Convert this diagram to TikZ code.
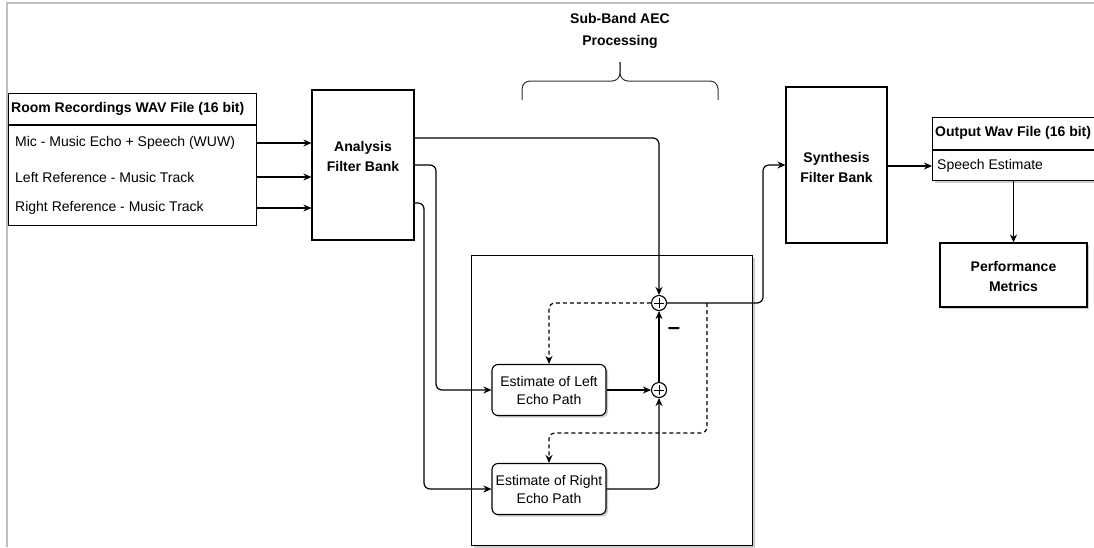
\documentclass[tikz,border=0pt]{standalone}
\usepackage{fontspec}
\setmainfont{Liberation Sans}
\usetikzlibrary{arrows.meta,shadows}

\begin{document}
\begin{tikzpicture}[x=1pt,y=-1pt]
\tikzstyle{box}=[draw,line width=1.1pt,fill=white,inner sep=0pt]
\tikzstyle{shade}=[drop shadow={shadow xshift=2pt,shadow yshift=-2pt,fill=black!40}]
\tikzstyle{rbox}=[box,rounded corners=6pt,align=center,font=\fontsize{14}{18}\selectfont]
\tikzstyle{txt}=[inner sep=0pt,font=\fontsize{14}{17}\selectfont]
\tikzstyle{hdr}=[inner sep=0pt,font=\fontsize{14}{17}\selectfont\bfseries]
\tikzstyle{lbl}=[inner sep=0pt,align=center,font=\fontsize{14}{20}\selectfont\bfseries]
\tikzstyle{sum}=[draw,line width=1.1pt,circle,fill=white,minimum size=15pt,inner sep=0pt,
  path picture={\draw[line width=1pt,shift={(path picture bounding box.center)}] (-5pt,0) -- (5pt,0) (0,-5pt) -- (0,5pt);}]
\tikzstyle{arr}=[draw,line width=1.2pt,-{Stealth[length=8pt,width=7pt]},rounded corners=6pt]
\tikzstyle{darr}=[arr,dash pattern=on 4pt off 3pt]
\useasboundingbox (0,0) rectangle (1094,547);
\draw[black!25,line width=1.2pt] (7,547) -- (7,3) -- (1094,3);

\node[box,minimum width=248pt,minimum height=132pt,anchor=north west] (room) at (8,93) {};
\draw[line width=1.1pt] (8,125) -- (256,125);
\node[hdr,anchor=west] (roomtitle) at (11,109) {Room Recordings WAV File (16 bit)};
\node[txt,anchor=west] (mic) at (15,143) {Mic - Music Echo + Speech (WUW)};
\node[txt,anchor=west] (leftref) at (15,177) {Left Reference - Music Track};
\node[txt,anchor=west] (rightref) at (15,208) {Right Reference - Music Track};

\node[box,minimum width=102pt,minimum height=150pt] (analysis) at (363,165) {};
\node[lbl] (analysislbl) at (363,156) {Analysis\\Filter Bank};

\node[txt,align=center,font=\fontsize{14}{22}\selectfont\bfseries] (aectitle) at (620,31) {Sub-Band AEC\\Processing};
\draw[black!80,line width=1pt,rounded corners=8pt] (522,100) -- (522,81) -- (620,81) -- (620,62);
\draw[black!80,line width=1pt,rounded corners=8pt] (718,100) -- (718,81) -- (620,81) -- (620,62);

\node[box,shade,minimum width=281pt,minimum height=290pt,anchor=north west] (aec) at (471,255) {};
\node[rbox,shade,minimum width=114pt,minimum height=51pt] (estl) at (549,390) {Estimate of Left\\Echo Path};
\node[rbox,shade,minimum width=114pt,minimum height=51pt] (estr) at (549,489) {Estimate of Right\\Echo Path};
\node[sum] (sum1) at (659,303) {};
\node[sum] (sum2) at (659,390) {};
\node[inner sep=0pt,font=\fontsize{22}{22}\selectfont\bfseries] (minus) at (674,331) {--};
\coordinate (tap) at (707,303);

\node[box,minimum width=101pt,minimum height=156pt] (synth) at (836.5,165) {};
\node[lbl] (synthlbl) at (836.5,167) {Synthesis\\Filter Bank};

\node[box,shade,minimum width=170pt,minimum height=63pt,anchor=north west] (outbox) at (932,117) {};
\draw[line width=1.1pt] (932,150) -- (1102,150);
\node[hdr,anchor=west] (outtitle) at (935,133) {Output Wav File (16 bit)};
\node[txt,anchor=west] (speech) at (937,166) {Speech Estimate};

\node[box,shade,minimum width=147pt,minimum height=64pt] (perf) at (1013.5,275) {};
\node[lbl] (perflbl) at (1013.5,276) {Performance\\Metrics};

\path[arr] (room.east |- mic) -- (analysis.west |- mic);
\path[arr] (room.east |- leftref) -- (analysis.west |- leftref);
\path[arr] (room.east |- rightref) -- (analysis.west |- rightref);
\path[arr] (analysis.east |- 0,138) -| (sum1);
\path[arr] (analysis.east |- 0,165) -- (436,165) |- (estl);
\path[arr] (analysis.east |- 0,203) -- (424,203) |- (estr);
\path[arr] (estl) -- (sum2);
\path[arr] (estr) -| (sum2);
\path[arr] (sum2) -- (sum1);
\path[arr] (sum1) -- (763,303) |- (synth);
\path[darr] (sum1) -| (estl);
\path[darr] (tap) -- (707,433) -| (estr);
\path[arr] (synth.east |- speech) -- (outbox.west |- speech);
\path[arr] (perf.north |- outbox.south) -- (perf.north);
\end{tikzpicture}
\end{document}
